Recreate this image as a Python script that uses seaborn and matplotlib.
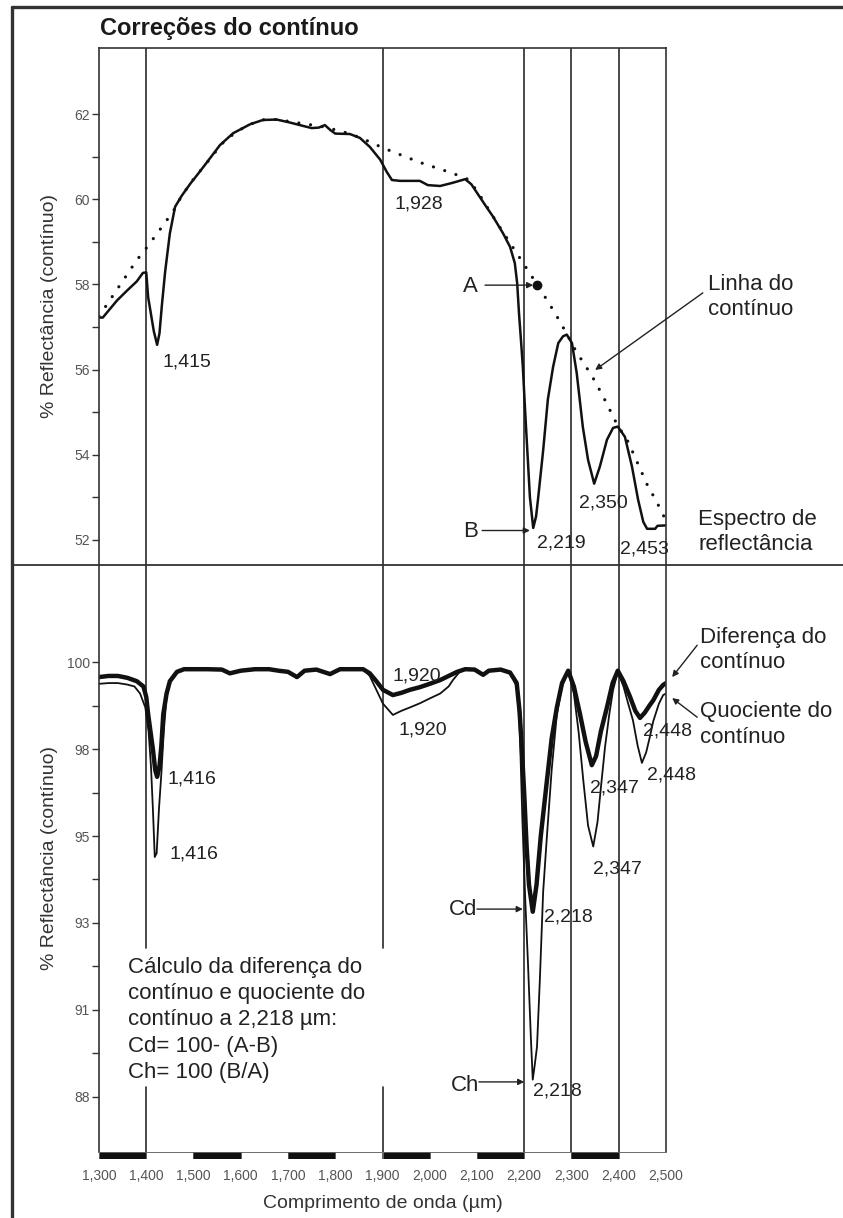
import numpy as np
import matplotlib
matplotlib.use("Agg")
import matplotlib.pyplot as plt
from matplotlib.lines import Line2D
import seaborn as sns

# ---------------- data ----------------
# top panel: reflectance spectrum and continuum line
wl_spec = [1300, 1308, 1320, 1338, 1359, 1380, 1393, 1400, 1404, 1410,
           1416, 1423, 1428, 1433, 1440, 1450, 1461, 1475, 1493, 1510,
           1528, 1556, 1584, 1620, 1647, 1676, 1704, 1732, 1750, 1765,
           1778, 1790, 1800, 1831, 1852, 1873, 1895, 1909, 1920, 1937,
           1979, 1996, 2022, 2047, 2075, 2088, 2100, 2121, 2134, 2155,
           2170, 2180, 2185, 2189, 2193, 2197, 2202, 2206, 2212, 2219,
           2225, 2229, 2240, 2250, 2261, 2272, 2282, 2290, 2301, 2311,
           2324, 2335, 2348, 2360, 2375, 2388, 2398, 2413, 2428, 2441,
           2452, 2460, 2477, 2482, 2500]
refl_spec = [57.22, 57.22, 57.38, 57.62, 57.85, 58.07, 58.27, 58.28, 57.70, 57.30,
             56.90, 56.58, 56.85, 57.50, 58.30, 59.20, 59.82, 60.08, 60.36, 60.60,
             60.86, 61.27, 61.55, 61.76, 61.86, 61.87, 61.80, 61.72, 61.67, 61.68,
             61.74, 61.62, 61.54, 61.53, 61.44, 61.23, 60.93, 60.64, 60.45, 60.43,
             60.43, 60.33, 60.31, 60.38, 60.47, 60.35, 60.15, 59.80, 59.59, 59.20,
             58.88, 58.50, 58.03, 57.30, 56.70, 56.06, 55.00, 54.20, 53.00, 52.28,
             52.55, 52.94, 54.10, 55.30, 56.06, 56.62, 56.78, 56.82, 56.62, 55.92,
             54.65, 53.88, 53.32, 53.72, 54.35, 54.63, 54.66, 54.42, 53.72, 52.94,
             52.42, 52.26, 52.26, 52.33, 52.34]

wl_cont = [1300, 1320, 1340, 1360, 1380, 1400, 1420, 1440, 1460, 1475,
           1500, 1530, 1560, 1590, 1620, 1650, 1680, 1710, 1740, 1770,
           1800, 1830, 1860, 1890, 1920, 1950, 1980, 2010, 2040, 2060,
           2080, 2100, 2130, 2160, 2190, 2220, 2250, 2270, 2290, 2310,
           2330, 2350, 2370, 2396, 2420, 2440, 2460, 2480, 2500]
refl_cont = [57.25, 57.58, 57.91, 58.24, 58.57, 58.85, 59.15, 59.45, 59.77, 60.08,
             60.47, 60.88, 61.30, 61.58, 61.76, 61.87, 61.87, 61.81, 61.76, 61.71,
             61.63, 61.54, 61.41, 61.26, 61.12, 60.99, 60.86, 60.75, 60.64, 60.56,
             60.47, 60.20, 59.66, 59.14, 58.63, 58.12, 57.60, 57.23, 56.84, 56.42,
             56.08, 55.72, 55.30, 54.72, 54.30, 53.80, 53.30, 52.90, 52.45]

# bottom panel: continuum difference (thick) and continuum quotient (thin)
wl_cd = [1300, 1320, 1340, 1360, 1380, 1394, 1400, 1404, 1410, 1414,
         1419, 1423, 1428, 1432, 1436, 1443, 1450, 1465, 1480, 1500,
         1530, 1560, 1577, 1600, 1630, 1660, 1680, 1700, 1719, 1735,
         1760, 1789, 1810, 1840, 1859, 1873, 1887, 1901, 1922, 1940,
         1958, 1979, 2000, 2022, 2040, 2058, 2075, 2095, 2113, 2125,
         2150, 2170, 2184, 2190, 2195, 2200, 2205, 2210, 2218, 2226,
         2235, 2248, 2258, 2269, 2280, 2293, 2305, 2318, 2330, 2343,
         2352, 2362, 2375, 2387, 2398, 2410, 2424, 2435, 2445, 2455,
         2465, 2473, 2485, 2494, 2500]
cont_diff = [99.60, 99.63, 99.63, 99.58, 99.49, 99.35, 99.07, 98.61, 98.05, 97.68,
             97.12, 96.94, 97.22, 97.77, 98.61, 99.16, 99.49, 99.74, 99.81, 99.81,
             99.81, 99.80, 99.70, 99.77, 99.81, 99.81, 99.77, 99.74, 99.60, 99.77,
             99.80, 99.68, 99.81, 99.81, 99.81, 99.70, 99.49, 99.26, 99.12, 99.18,
             99.26, 99.33, 99.42, 99.52, 99.63, 99.74, 99.81, 99.80, 99.66, 99.77,
             99.80, 99.72, 99.44, 98.70, 97.68, 96.47, 95.08, 94.06, 93.34, 94.06,
             95.36, 96.84, 97.96, 98.79, 99.44, 99.77, 99.35, 98.61, 97.87, 97.25,
             97.49, 98.14, 98.79, 99.44, 99.77, 99.49, 99.07, 98.70, 98.51, 98.65,
             98.84, 98.98, 99.26, 99.39, 99.44]

wl_ch = [1300, 1320, 1340, 1360, 1375, 1387, 1398, 1405, 1410, 1414,
         1418, 1422, 1427, 1432, 1437, 1443, 1452, 1465, 1480, 1500,
         1530, 1560, 1577, 1600, 1630, 1660, 1680, 1700, 1719, 1735,
         1760, 1789, 1810, 1840, 1859, 1873, 1887, 1901, 1922, 1940,
         1958, 1979, 2000, 2022, 2040, 2049, 2062, 2075, 2095, 2113,
         2125, 2150, 2170, 2184, 2190, 2196, 2202, 2208, 2214, 2218,
         2222, 2227, 2233, 2240, 2248, 2258, 2269, 2280, 2293, 2305,
         2315, 2325, 2335, 2346, 2355, 2363, 2371, 2380, 2388, 2398,
         2410, 2420, 2430, 2440, 2449, 2458, 2465, 2473, 2485, 2494,
         2500]
cont_quot = [99.42, 99.44, 99.44, 99.40, 99.35, 99.16, 98.79, 98.14, 97.22, 96.10,
             94.80, 94.90, 96.10, 97.03, 98.14, 99.07, 99.54, 99.74, 99.81, 99.81,
             99.81, 99.80, 99.70, 99.77, 99.81, 99.81, 99.77, 99.74, 99.60, 99.77,
             99.80, 99.68, 99.81, 99.81, 99.81, 99.63, 99.26, 98.89, 98.59, 98.70,
             98.79, 98.90, 99.03, 99.16, 99.35, 99.52, 99.72, 99.81, 99.80, 99.66,
             99.77, 99.80, 99.72, 99.35, 98.42, 95.82, 93.69, 91.93, 89.98, 88.86,
             89.23, 89.74, 91.52, 93.87, 95.36, 97.12, 98.61, 99.35, 99.77, 99.16,
             98.14, 96.84, 95.64, 95.08, 95.73, 96.75, 97.74, 98.61, 99.26, 99.74,
             99.35, 98.89, 98.45, 97.77, 97.31, 97.59, 97.96, 98.42, 98.89, 99.12,
             99.16]

band_lines = [1400, 1900, 2200, 2300, 2400]
x_ticks = [1300, 1400, 1500, 1600, 1700, 1800, 1900, 2000, 2100, 2200, 2300, 2400, 2500]
x_tick_labels = ["1,300", "1,400", "1,500", "1,600", "1,700", "1,800", "1,900",
                 "2,000", "2,100", "2,200", "2,300", "2,400", "2,500"]
top_yticks = [52, 54, 56, 58, 60, 62]
top_yticklabels = ["52", "54", "56", "58", "60", "62"]
top_yminor = [53, 55, 57, 59, 61]
bot_yticks = [88.4, 90.72, 93.04, 95.36, 97.68, 100.0]
bot_yticklabels = ["88", "91", "93", "95", "98", "100"]
bot_yminor = [89.56, 91.88, 94.2, 96.52, 98.84]
bar_starts = [1300, 1400, 1500, 1600, 1700, 1800, 1900, 2000, 2100, 2200, 2300, 2400]
A_wl = 2228   # wavelength of point A on continuum

# ---------------- style ----------------
sns.set_theme(style="white")
plt.rcParams['font.family'] = ['Liberation Sans', 'DejaVu Sans']
TXT = '#222222'
LINE = '#2a2a2a'
plt.rcParams['text.color'] = TXT

W, H = 843, 1218
fig = plt.figure(figsize=(W / 100, H / 100), dpi=100)
fig.patch.set_facecolor('white')

L = 99 / W
Wd = 567 / W
ax_top = fig.add_axes([L, 1 - 565 / H, Wd, 517 / H])
ax_bot = fig.add_axes([L, 1 - 1152 / H, Wd, 587 / H])
ax_bar = fig.add_axes([L, 1 - 1159 / H, Wd, 7 / H])

# ---- top panel ----
sns.lineplot(x=wl_cont, y=refl_cont, ax=ax_top, color='#111111', linewidth=2.3,
             estimator=None, sort=False)
cont_line = ax_top.lines[-1]
cont_line.set_linestyle((0, (0.01, 3.7)))
cont_line.set_dash_capstyle('round')
sns.lineplot(x=wl_spec, y=refl_spec, ax=ax_top, color='#111111', linewidth=1.8,
             estimator=None, sort=False)
A_val = float(np.interp(A_wl, wl_cont, refl_cont))
ax_top.plot([A_wl], [A_val], 'o', color='#111111', markersize=6, zorder=5)

ax_top.set_xlim(1300, 2500)
ax_top.set_ylim(51.41, 63.55)
for b in band_lines:
    ax_top.axvline(b, color=LINE, lw=1.2, zorder=1)

# ---- bottom panel ----
sns.lineplot(x=wl_ch, y=cont_quot, ax=ax_bot, color='#111111', linewidth=1.3,
             estimator=None, sort=False)
sns.lineplot(x=wl_cd, y=cont_diff, ax=ax_bot, color='#111111', linewidth=3.2,
             estimator=None, sort=False)
ax_bot.set_xlim(1300, 2500)
ax_bot.set_ylim(86.93, 102.59)
for b in band_lines:
    if b <= 1900:
        ax_bot.axvline(b, ymin=0.3475, ymax=1, color=LINE, lw=1.2, zorder=1)
        ax_bot.axvline(b, ymin=0, ymax=0.1107, color=LINE, lw=1.2, zorder=1)
    else:
        ax_bot.axvline(b, color=LINE, lw=1.2, zorder=1)

# ---- axes cosmetics ----
for ax, yt, ytl, ym in [(ax_top, top_yticks, top_yticklabels, top_yminor),
                        (ax_bot, bot_yticks, bot_yticklabels, bot_yminor)]:
    ax.set_xticks([])
    ax.set_yticks(yt, labels=ytl)
    ax.set_yticks(ym, minor=True)
    ax.tick_params(axis='y', which='both', left=True, direction='out', length=5,
                   width=1.0, color='#333333', labelsize=10, labelcolor='#555555', pad=1.5)
    ax.set_xlabel('')
    ax.set_ylabel('% Reflectância (contínuo)', fontsize=14, color='#333333')
    ax.yaxis.set_label_coords(-0.073, 0.5)
    for s in ax.spines.values():
        s.set_color('#333333')
        s.set_linewidth(1.2)
    ax.spines['bottom'].set_visible(False)
    ax.set_facecolor('none')
ax_bot.spines['top'].set_visible(False)

# ---- wavelength bar (x axis) ----
bar_colors = ['#111111' if i % 2 == 0 else 'white' for i in range(len(bar_starts))]
ax_bar.bar(bar_starts, [1] * len(bar_starts), width=100, align='edge',
           color=bar_colors, edgecolor='#555555', linewidth=0.6)
ax_bar.set_xlim(1300, 2500)
ax_bar.set_ylim(0, 1)
ax_bar.set_yticks([])
ax_bar.set_xticks(x_ticks, labels=x_tick_labels)
ax_bar.tick_params(axis='x', length=0, pad=7, labelsize=10, labelcolor='#555555')
for s in ax_bar.spines.values():
    s.set_visible(False)
ax_bar.set_xlabel('Comprimento de onda (µm)', fontsize=14, color='#333333', labelpad=9)

# ---- frame lines ----
fig.add_artist(Line2D([12 / W, 12 / W], [0, 1 - 7 / H], transform=fig.transFigure,
                      color='#333333', lw=2.4))
fig.add_artist(Line2D([12 / W, 1], [1 - 7 / H, 1 - 7 / H], transform=fig.transFigure,
                      color='#333333', lw=2.4))
fig.add_artist(Line2D([12 / W, 1], [1 - 565 / H, 1 - 565 / H], transform=fig.transFigure,
                      color='#333333', lw=1.3))

fig.text(100 / W, 1 - 35 / H, 'Correções do contínuo', fontsize=17, fontweight='bold',
         ha='left', va='baseline', color='#1a1a1a')

# ---- annotations ----
NUM = 14
LAB = 16
arrow_kw = dict(arrowstyle='-|>', color='#222222', lw=1.0, mutation_scale=9,
                shrinkA=0, shrinkB=0)


def txt(ax, x, y, s, size=NUM):
    ax.text(x, y, s, fontsize=size, ha='left', va='baseline', color=TXT, clip_on=False)


def arrow(ax, x0, y0, x1, y1):
    ax.annotate('', xy=(x1, y1), xytext=(x0, y0), arrowprops=arrow_kw,
                annotation_clip=False)


# top
txt(ax_top, 1926, 59.79, '1,928')
txt(ax_top, 1435, 56.06, '1,415')
txt(ax_top, 2316, 52.75, '2,350')
txt(ax_top, 2227, 51.81, '2,219')
txt(ax_top, 2403, 51.69, '2,453')
txt(ax_top, 2070, 57.82, 'A', LAB)
arrow(ax_top, 2117, A_val, A_wl - 9, A_val)
txt(ax_top, 2070, 52.07, 'B', LAB)
arrow(ax_top, 2111, 52.22, 2212, 52.22)
txt(ax_top, 2589, 57.87, 'Linha do', LAB)
txt(ax_top, 2589, 57.28, 'contínuo', LAB)
arrow(ax_top, 2578, 57.80, 2350, 55.99)
txt(ax_top, 2568, 52.35, 'Espectro de', LAB)
txt(ax_top, 2568, 51.77, 'reflectância', LAB)

# bottom
txt(ax_bot, 1922, 99.52, '1,920')
txt(ax_bot, 1933, 98.08, '1,920')
txt(ax_bot, 1444, 96.77, '1,416')
txt(ax_bot, 1450, 94.77, '1,416')
txt(ax_bot, 2339, 96.51, '2,347')
txt(ax_bot, 2345, 94.37, '2,347')
txt(ax_bot, 2451, 98.03, '2,448')
txt(ax_bot, 2460, 96.88, '2,448')
txt(ax_bot, 2242, 93.07, '2,218')
txt(ax_bot, 2218, 88.45, '2,218')
txt(ax_bot, 2041, 93.25, 'Cd', LAB)
arrow(ax_bot, 2100, 93.41, 2197, 93.41)
txt(ax_bot, 2045, 88.56, 'Ch', LAB)
arrow(ax_bot, 2104, 88.80, 2200, 88.80)
txt(ax_bot, 2572, 100.51, 'Diferença do', LAB)
txt(ax_bot, 2572, 99.84, 'contínuo', LAB)
arrow(ax_bot, 2566, 100.45, 2513, 99.60)
txt(ax_bot, 2572, 98.53, 'Quociente do', LAB)
txt(ax_bot, 2572, 97.84, 'contínuo', LAB)
arrow(ax_bot, 2566, 98.53, 2513, 99.04)

note_lines = ['Cálculo da diferença do', 'contínuo e quociente do',
              'contínuo a 2,218 µm:', 'Cd= 100- (A-B)', 'Ch= 100 (B/A)']
for i, line in enumerate(note_lines):
    txt(ax_bot, 1361, 91.71 - 0.70 * i, line, LAB)

fig.savefig('out.png', dpi=100, facecolor='white')
